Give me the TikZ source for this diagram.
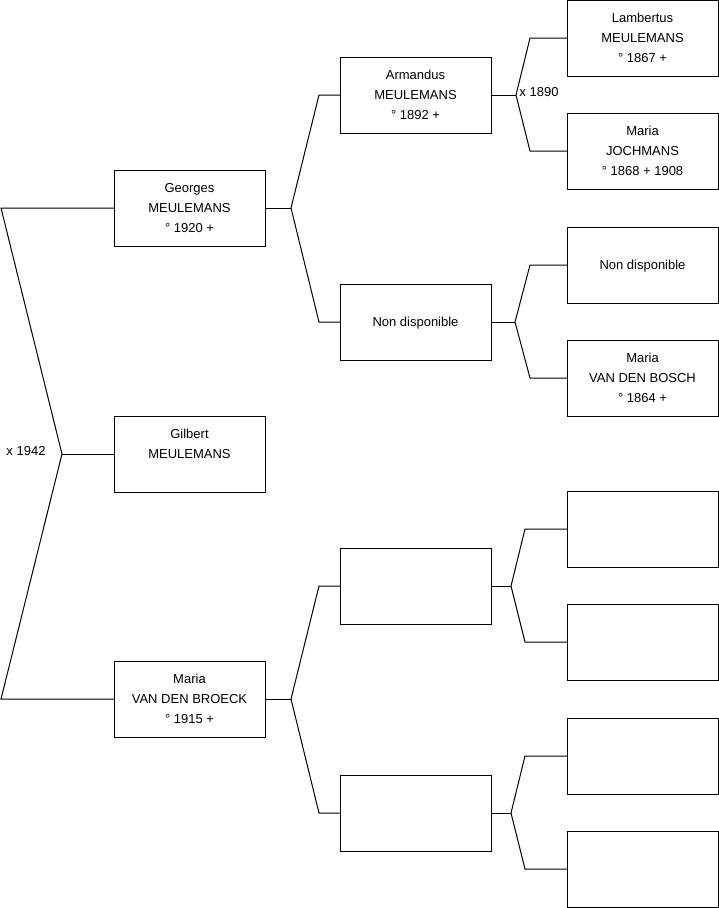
\documentclass[tikz,border=0pt]{standalone}
\usepackage{fontspec}
\setmainfont{Liberation Sans}
\newcommand\trois[3]{\strut #1\\\strut #2\\\strut #3}
\tikzset{
  box/.style={draw=black, line width=1pt, minimum width=151pt, minimum height=76pt,
    inner sep=0pt, outer sep=0pt, align=center, font=\fontsize{13}{20}\selectfont},
  lbl/.style={inner sep=0pt, font=\fontsize{13}{20}\selectfont},
  conn/.style={draw=black, line width=1pt}
}
\begin{document}
\begin{tikzpicture}[x=1pt,y=-1pt]
\useasboundingbox (0,0) rectangle (719,908);
% generation 1
\node[box] (georges) at (189.5,208) {\trois{Georges}{MEULEMANS}{° 1920 +}};
\node[box] (gilbert) at (189.5,454) {\trois{Gilbert}{MEULEMANS}{}};
\node[box] (mariab) at (189.5,699) {\trois{Maria}{VAN DEN BROECK}{° 1915 +}};
% generation 2
\node[box] (armandus) at (415.5,95) {\trois{Armandus}{MEULEMANS}{° 1892 +}};
\node[box] (nd1) at (415.5,322) {\trois{}{Non disponible}{}};
\node[box] (e1) at (415.5,586) {};
\node[box] (e2) at (415.5,813) {};
% generation 3
\node[box] (lambertus) at (642.5,38) {\trois{Lambertus}{MEULEMANS}{° 1867 +}};
\node[box] (mariaj) at (642.5,151) {\trois{Maria}{JOCHMANS}{° 1868 + 1908}};
\node[box] (nd2) at (642.5,265) {\trois{}{Non disponible}{}};
\node[box] (mariavdb) at (642.5,378) {\trois{Maria}{VAN DEN BOSCH}{° 1864 +}};
\node[box] (f1) at (642.5,529) {};
\node[box] (f2) at (642.5,642) {};
\node[box] (f3) at (642.5,756) {};
\node[box] (f4) at (642.5,869) {};
% labels
\node[lbl] (m1942) at (26,451) {x 1942};
\node[lbl] (m1890) at (539,92) {x 1890};
% columns and junctions
\coordinate (c0) at (1,0);
\coordinate (c1) at (319,0);
\coordinate (c2) at (530,0);
\coordinate (c3) at (525,0);
\coordinate (j0) at (62,454);
\coordinate (j1) at (291,208);
\coordinate (j2) at (291,699);
\coordinate (j3) at (516,95);
\coordinate (j4) at (515,322);
\coordinate (j5) at (511,586);
\coordinate (j6) at (511,813);
% connectors
\draw[conn] (gilbert.west) -- (j0);
\draw[conn] (j0) -- (c0 |- georges.west) -- (georges.west);
\draw[conn] (j0) -- (c0 |- mariab.west) -- (mariab.west);
\draw[conn] (georges.east) -- (j1);
\draw[conn] (j1) -- (c1 |- armandus.west) -- (armandus.west);
\draw[conn] (j1) -- (c1 |- nd1.west) -- (nd1.west);
\draw[conn] (mariab.east) -- (j2);
\draw[conn] (j2) -- (c1 |- e1.west) -- (e1.west);
\draw[conn] (j2) -- (c1 |- e2.west) -- (e2.west);
\draw[conn] (armandus.east) -- (j3);
\draw[conn] (j3) -- (c2 |- lambertus.west) -- (lambertus.west);
\draw[conn] (j3) -- (c2 |- mariaj.west) -- (mariaj.west);
\draw[conn] (nd1.east) -- (j4);
\draw[conn] (j4) -- (c2 |- nd2.west) -- (nd2.west);
\draw[conn] (j4) -- (c2 |- mariavdb.west) -- (mariavdb.west);
\draw[conn] (e1.east) -- (j5);
\draw[conn] (j5) -- (c3 |- f1.west) -- (f1.west);
\draw[conn] (j5) -- (c3 |- f2.west) -- (f2.west);
\draw[conn] (e2.east) -- (j6);
\draw[conn] (j6) -- (c3 |- f3.west) -- (f3.west);
\draw[conn] (j6) -- (c3 |- f4.west) -- (f4.west);
\end{tikzpicture}
\end{document}
